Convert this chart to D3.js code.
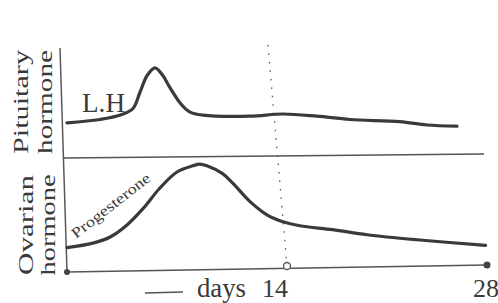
<!DOCTYPE html>
<html>
<head>
<meta charset="utf-8">
<script src="https://cdn.jsdelivr.net/npm/d3@7"></script>
<style>
  body { margin: 0; background: #fff; }
  text { font-family: "Liberation Serif", "DejaVu Serif", serif; fill: #3a3a3a; }
</style>
</head>
<body>
<div id="divChart"></div>
<script>
// days of the cycle and hormone levels (arbitrary units 0-100)
const lhDays = [0, 2.1, 3.4, 4.2, 4.65, 5.1, 5.6, 6.1, 6.55, 7.2, 7.8, 8.65, 11.65, 13.75, 16.1, 18.4, 21.9, 23.8, 25.9];
const lhValues = [32, 35, 39, 45, 60, 75, 82, 75, 64, 50, 42, 39, 38, 40, 38, 35, 33, 30, 29];

const progDays = [0, 1.65, 2.75, 3.8, 4.85, 5.9, 7.0, 8.0, 8.45, 8.9, 9.9, 10.55, 11.65, 12.75, 13.75, 14.9, 17.2, 19.6, 23.1, 27.9];
const progValues = [20, 24, 29.5, 40, 55, 73, 87.5, 93, 94.5, 93, 86, 77.5, 61, 49, 43, 39.5, 36, 31.5, 27, 22];

const tickDays = [14, 28];
const tickLabels = ['14', '28'];

const width = 498, height = 303;
const ink = '#3a3a3a';

const svg = d3.select('#divChart')
  .append('svg')
  .attr('width', width)
  .attr('height', height);

// day 14 sits a bit further right than a straight scale would put it
const x = d3.scaleLinear().domain([0, 14, 28]).range([67, 287, 487]);
const yLH = d3.scaleLinear().domain([0, 100]).range([158, 48]);
const yProg = d3.scaleLinear().domain([0, 100]).range([270, 158]);

// frame: left axis, panel divider, bottom axis (the scan is slightly skewed)
svg.append('line')
  .attr('x1', x(0) - 7).attr('y1', yLH(100))
  .attr('x2', x(0)).attr('y2', yProg(0) + 2)
  .attr('stroke', '#555').attr('stroke-width', 1.5);

svg.append('line')
  .attr('x1', x(0) - 4).attr('y1', yLH(0))
  .attr('x2', x(28) - 3).attr('y2', yLH(0) - 4)
  .attr('stroke', '#555').attr('stroke-width', 1.5);

svg.append('line')
  .attr('x1', x(0)).attr('y1', yProg(0) + 2)
  .attr('x2', x(28)).attr('y2', yProg(0) - 5)
  .attr('stroke', '#555').attr('stroke-width', 1.5);

// dotted marker for day 14
svg.append('line')
  .attr('x1', x(14) - 19).attr('y1', yLH(100) - 3)
  .attr('x2', x(14)).attr('y2', yProg(0) - 4)
  .attr('stroke', '#555').attr('stroke-width', 1.3)
  .attr('stroke-dasharray', '1.5,7');

// curves
const line = d3.line().curve(d3.curveCatmullRom.alpha(0.5));

svg.append('path')
  .datum(lhDays.map((d, i) => [x(d), yLH(lhValues[i])]))
  .attr('d', line)
  .attr('fill', 'none')
  .attr('stroke', ink)
  .attr('stroke-width', 3.2)
  .attr('stroke-linecap', 'round');

svg.append('path')
  .datum(progDays.map((d, i) => [x(d), yProg(progValues[i])]))
  .attr('d', line)
  .attr('fill', 'none')
  .attr('stroke', ink)
  .attr('stroke-width', 3.2)
  .attr('stroke-linecap', 'round');

// end points on the day axis
svg.append('circle')
  .attr('cx', x(0)).attr('cy', yProg(0) + 2).attr('r', 3)
  .attr('fill', '#444');
svg.append('circle')
  .attr('cx', x(28)).attr('cy', yProg(0) - 5).attr('r', 3.5)
  .attr('fill', '#444');
svg.append('circle')
  .attr('cx', x(14)).attr('cy', yProg(0) - 4).attr('r', 3.5)
  .attr('fill', '#fff').attr('stroke', '#555').attr('stroke-width', 1.3);

// tick labels
svg.selectAll('.tick')
  .data(tickDays)
  .enter()
  .append('text')
  .attr('class', 'tick')
  .attr('x', (d, i) => i === 0 ? x(d) - 12 : x(d) - 1)
  .attr('y', 297)
  .attr('text-anchor', 'middle')
  .style('font-size', '26px')
  .text((d, i) => tickLabels[i]);

svg.append('line')
  .attr('x1', 145).attr('y1', 293).attr('x2', 183).attr('y2', 292)
  .attr('stroke', '#555').attr('stroke-width', 1.6);
svg.append('text')
  .attr('x', 197).attr('y', 297)
  .style('font-size', '27px')
  .attr('textLength', 49).attr('lengthAdjust', 'spacingAndGlyphs')
  .text('days');

// y labels, two lines each, rotated
const yLabels = [
  { text: 'Pituitary', bx: 28, cy: 102, len: 104 },
  { text: 'hormone', bx: 52, cy: 102, len: 104 },
  { text: 'Ovarian', bx: 33, cy: 225, len: 100 },
  { text: 'hormone', bx: 55, cy: 225, len: 101 }
];
svg.selectAll('.ylab')
  .data(yLabels)
  .enter()
  .append('text')
  .attr('class', 'ylab')
  .attr('transform', d => `translate(${d.bx},${d.cy}) rotate(-90)`)
  .attr('text-anchor', 'middle')
  .style('font-size', '22px')
  .attr('textLength', d => d.len).attr('lengthAdjust', 'spacingAndGlyphs')
  .text(d => d.text);

// curve names
svg.append('text')
  .attr('x', 82).attr('y', 112)
  .style('font-size', '27px')
  .attr('textLength', 43).attr('lengthAdjust', 'spacingAndGlyphs')
  .text('L.H');

svg.append('text')
  .attr('transform', 'translate(76,239) rotate(-38)')
  .style('font-size', '15px')
  .attr('textLength', 96).attr('lengthAdjust', 'spacingAndGlyphs')
  .text('Progesterone');
</script>
</body>
</html>
